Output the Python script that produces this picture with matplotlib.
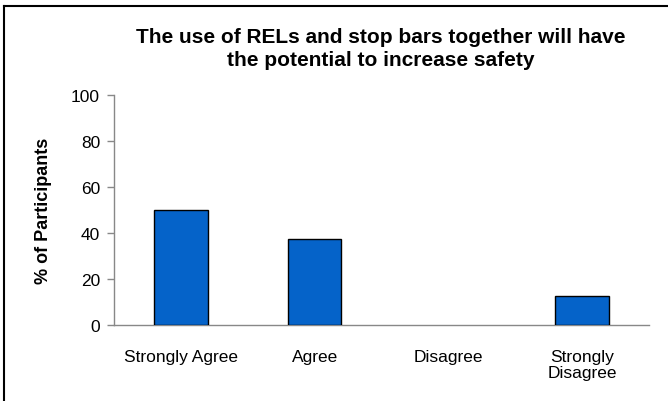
import matplotlib
matplotlib.use('Agg')
import matplotlib.pyplot as plt
from matplotlib.lines import Line2D

categories = ["Strongly Agree", "Agree", "Disagree", "Strongly\nDisagree"]
percent = [50, 37.5, 0, 12.5]
yticks = [0, 20, 40, 60, 80, 100]

plt.rcParams['font.family'] = ['Liberation Sans', 'DejaVu Sans']

fig = plt.figure(figsize=(6.68, 4.02), dpi=100)
ax = fig.add_axes([114 / 668, 1 - 326 / 402, (649 - 114) / 668, 230 / 402])

x = range(len(categories))
# empty bars get no outline, like the source chart
ax.bar(x, percent, width=0.4, color='#0563c9', edgecolor='black',
       linewidth=[1 if v > 0 else 0 for v in percent], zorder=3)

ax.set_xlim(-0.5, len(categories) - 0.5)
ax.set_ylim(0, 100)
ax.set_yticks(yticks)
ax.set_xticks(list(x))
ax.set_xticklabels(categories, fontsize=12.5, linespacing=1.1)
ax.tick_params(axis='x', length=0, pad=17)
ax.tick_params(axis='y', length=5, width=1, color='#888888', labelsize=12.5, pad=5)

for s in ['top', 'right']:
    ax.spines[s].set_visible(False)
for s in ['left', 'bottom']:
    ax.spines[s].set_color('#888888')
    ax.spines[s].set_linewidth(1)

ax.set_ylabel('% of Participants', fontsize=13, fontweight='bold', labelpad=14)
fig.text(381 / 668, 1 - 49 / 402,
         'The use of RELs and stop bars together will have\nthe potential to increase safety',
         ha='center', va='center', fontsize=15, fontweight='bold', linespacing=1.25)

# frame around chart area (only top and left edges are visible in the image)
fig.add_artist(Line2D([4 / 668, 4 / 668], [0, 1 - 7 / 402], transform=fig.transFigure,
                      color='black', linewidth=1.5))
fig.add_artist(Line2D([4 / 668, 1], [1 - 7 / 402, 1 - 7 / 402], transform=fig.transFigure,
                      color='black', linewidth=1.5))

fig.savefig('out.png', dpi=100, facecolor='white')
